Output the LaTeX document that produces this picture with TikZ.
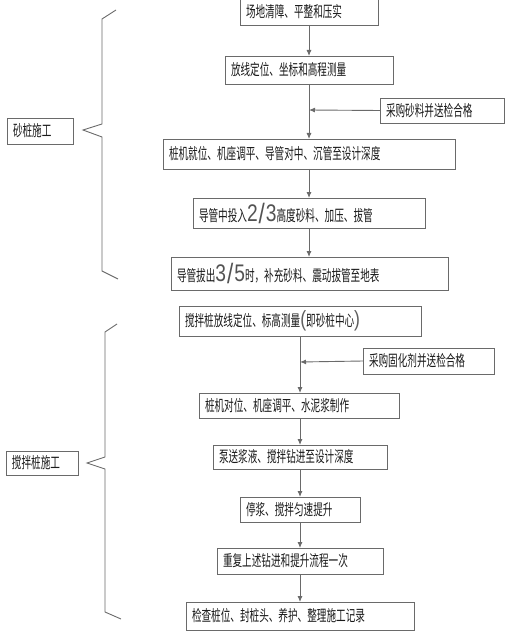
\documentclass[tikz,border=0pt]{standalone}
\usepackage{fontspec}
\usetikzlibrary{arrows.meta}
\newfontfamily\cjk[FakeStretch=0.62]{Noto Sans CJK SC}
\newfontfamily\digitfont[FakeStretch=0.8]{Liberation Sans}
\definecolor{linegray}{HTML}{6A6A6A}
\definecolor{textgray}{HTML}{1A1A1A}
\newcommand{\bigfrac}[2]{{\fontsize{24}{24}\digitfont\color{textgray!75}#1\kern1pt\raisebox{-2pt}{\fontsize{28}{28}\selectfont/}\kern1pt#2}}
\newcommand{\bigparen}[1]{{\fontsize{22}{22}\digitfont\color{textgray!70}#1}}
\newcommand{\flowbox}[6]{%
  \pgfmathsetmacro\bw{#4-#2}%
  \pgfmathsetmacro\bh{#5-#3}%
  \pgfmathsetmacro\tw{#4-#2-12}%
  \node[fbox, minimum width=\bw pt, minimum height=\bh pt, text width=\tw pt] (#1) at ({(#2+#4)/2},{(#3+#5)/2}) {#6};}
\begin{document}
\begin{tikzpicture}[x=1pt,y=-1pt,
  fbox/.style={draw=linegray, line width=0.9pt, inner xsep=6pt, inner ysep=0pt, outer sep=0pt,
    align=left, font=\cjk\fontsize{15.5}{17}\selectfont, text=textgray},
  flow/.style={draw=linegray, line width=0.9pt, -{Latex[length=6pt,width=5pt]}},
  brace/.style={draw=linegray, line width=0.9pt}]
\useasboundingbox (0,0) rectangle (505,631);
% sand pile section
\flowbox{b1}{240}{-2}{378}{25}{场地清障、平整和压实}
\flowbox{b2}{225}{56}{393}{84}{放线定位、坐标和高程测量}
\flowbox{s1}{380}{98}{504}{123}{采购砂料并送检合格}
\flowbox{b3}{163}{139}{455}{169}{桩机就位、机座调平、导管对中、沉管至设计深度}
\flowbox{b4}{193}{198}{425}{228}{导管中投入\bigfrac{2}{3}高度砂料、加压、拔管}
\flowbox{b5}{171}{257}{448}{290}{导管拔出\bigfrac{3}{5}时，补充砂料、震动拔管至地表}
\coordinate (j1) at (309,110);
\draw[flow] (b1.south -| j1) -- (b2.north -| j1);
\draw[flow] (b2.south -| j1) -- (b3.north -| j1);
\draw[flow] (s1.west) -- (j1);
\draw[flow] (b3.south -| j1) -- (b4.north -| j1);
\draw[flow] (b4.south -| j1) -- (b5.north -| j1);
% mixing pile section
\flowbox{b6}{179}{306}{421}{336}{搅拌桩放线定位、标高测量\bigparen{(}即砂桩中心\bigparen{)}}
\flowbox{s2}{363}{348}{494}{374}{采购固化剂并送检合格}
\flowbox{b7}{199}{393}{399}{418}{桩机对位、机座调平、水泥浆制作}
\flowbox{b8}{213}{445}{387}{469}{泵送浆液、搅拌钻进至设计深度}
\flowbox{b9}{240}{497}{360}{522}{停浆、搅拌匀速提升}
\flowbox{b10}{217}{548}{383}{574}{重复上述钻进和提升流程一次}
\flowbox{b11}{186}{602}{414}{630}{检查桩位、封桩头、养护、整理施工记录}
\coordinate (j2) at (300,362);
\draw[flow] (b6.south -| j2) -- (b7.north -| j2);
\draw[flow] (s2.west) -- (j2);
\draw[flow] (b7.south -| j2) -- (b8.north -| j2);
\draw[flow] (b8.south -| j2) -- (b9.north -| j2);
\draw[flow] (b9.south -| j2) -- (b10.north -| j2);
\draw[flow] (b10.south -| j2) -- (b11.north -| j2);
% labels and braces
\flowbox{L1}{7}{118}{73}{144}{砂桩施工}
\flowbox{L2}{6}{451}{78}{475}{搅拌桩施工}
\draw[brace] (116,10) -- (102,19) -- (102,124) -- (83,130) -- (102,137) -- (102,271) -- (118,279);
\draw[brace] (117,324) -- (105,332) -- (105,457) -- (87,463) -- (105,469) -- (105,612) -- (121,619);
\end{tikzpicture}
\end{document}
